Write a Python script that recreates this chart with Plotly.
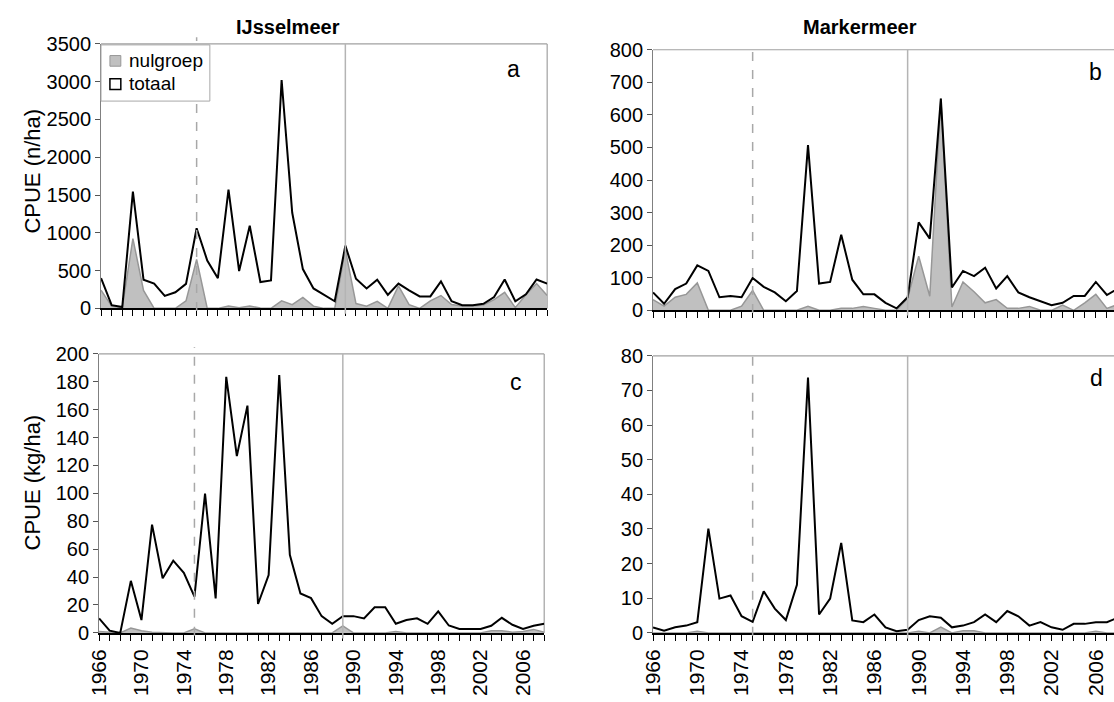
import plotly.graph_objects as go

years = list(range(1966, 2009))

# Panel a: IJsselmeer, CPUE (n/ha)
ijs_n_totaal = [400, 43, 17, 1545, 379, 328, 166, 213, 324, 1060, 634, 400, 1571, 494, 1094,
                349, 370, 3023, 1265, 520, 264, 179, 94, 830, 392, 264, 379, 179, 328, 238,
                158, 158, 358, 94, 43, 43, 60, 149, 383, 94, 187, 383, 328]
ijs_n_nulgroep = [240, 30, 10, 924, 238, 0, 0, 0, 100, 647, 0, 0, 30, 10, 30,
                  5, 0, 100, 50, 145, 30, 0, 0, 775, 64, 30, 94, 0, 298, 50,
                  0, 100, 170, 50, 30, 30, 43, 115, 213, 10, 179, 328, 170]

# Panel b: Markermeer, CPUE (n/ha)
mar_n_totaal = [55, 20, 65, 82, 138, 121, 40, 44, 40, 99, 72, 55, 28, 59, 507,
                82, 87, 232, 94, 49, 49, 23, 6, 40, 270, 220, 650, 70, 121, 105,
                131, 67, 105, 55, 40, 28, 16, 23, 44, 44, 87, 47, 67]
mar_n_nulgroep = [33, 13, 40, 49, 84, 0, 0, 0, 13, 61, 0, 0, 0, 0, 12,
                  0, 0, 6, 6, 12, 6, 0, 0, 37, 166, 43, 650, 10, 87, 57,
                  23, 33, 6, 6, 12, 0, 0, 16, 0, 23, 49, 6, 18]

# Panel c: IJsselmeer, CPUE (kg/ha)
ijs_kg_totaal = [10.4, 1.6, 0, 37.3, 9.2, 77.6, 39.2, 51.8, 43.1, 26, 99.8, 24.7, 183.6, 126.7, 162.9,
                 20.7, 41.5, 184.8, 56, 28.3, 24.9, 12, 6.5, 12, 12, 10.4, 18.4, 18.4, 6.5, 9.2,
                 10.4, 6.5, 15.4, 5.3, 2.8, 2.8, 2.8, 5.1, 10.8, 5.8, 2.8, 5.1, 6.5]
ijs_kg_nulgroep = [1, 0.3, 0, 3.5, 1.5, 0.5, 0, 0, 0, 3, 0, 0, 0, 0, 0,
                   0, 0, 0, 0, 0, 0, 0, 0, 5, 0, 0, 0, 0, 1, 0,
                   0, 0, 0, 0, 0, 0, 0, 1.5, 1.5, 0.5, 1, 2.5, 0.5]

# Panel d: Markermeer, CPUE (kg/ha)
mar_kg_totaal = [1.6, 0.6, 1.6, 2.1, 3.1, 30.1, 9.9, 10.8, 4.8, 3.2, 12, 7, 3.7, 13.9, 73.7,
                 5.3, 9.9, 26, 3.6, 3.1, 5.3, 1.6, 0.5, 0.9, 3.7, 4.8, 4.4, 1.6, 2.1, 3.1,
                 5.3, 3.1, 6.3, 4.8, 2.1, 3.1, 1.6, 0.9, 2.6, 2.6, 3.1, 3.1, 4.4]
mar_kg_nulgroep = [0, 0, 0, 0, 0.5, 0, 0, 0, 0, 0, 0, 0, 0, 0, 0,
                   0, 0, 0, 0, 0, 0, 0, 0, 0, 0.5, 0, 1.7, 0, 0.6, 0.6,
                   0, 0, 0, 0, 0, 0, 0, 0, 0, 0, 0.5, 0, 0]

series_names = ["nulgroep", "totaal"]
tick_labels = [str(y) if (y - 1966) % 4 == 0 else "" for y in years]
dashed_year = 1975
solid_year = 1989

W, H = 1114, 702
FONT = "Liberation Sans, Arial, sans-serif"
YTICK_SIZE = 20
XTICK_SIZE = 21
NUL_FILL, NUL_LINE = "#c0c0c0", "#979797"


def px_x(a, b):
    return [a / W, min(b, W) / W]


def px_y(top, bottom):
    return [1 - bottom / H, 1 - top / H]


def fx(p):
    return p / W


def fy(p):
    return 1 - p / H


# right-hand panels continue slightly beyond the picture edge
RIGHT_LEFT, RIGHT_FULL_END = 648, 1118
right_end = 1966 + 42 * (W - RIGHT_LEFT) / (RIGHT_FULL_END - RIGHT_LEFT)

panels = [
    ("x", "y", px_x(90, 541), px_y(34, 307), ijs_n_totaal, ijs_n_nulgroep, 3500, 500, "a", False, (507, 60)),
    ("x2", "y2", px_x(RIGHT_LEFT, W), px_y(40, 309), mar_n_totaal, mar_n_nulgroep, 800, 100, "b", True, (1095, 63)),
    ("x3", "y3", px_x(88, 538), px_y(354, 642), ijs_kg_totaal, ijs_kg_nulgroep, 200, 20, "c", False, (509, 383)),
    ("x4", "y4", px_x(RIGHT_LEFT, W), px_y(356, 642), mar_kg_totaal, mar_kg_nulgroep, 80, 10, "d", True, (1096, 379)),
]

fig = go.Figure()
shapes = []
annotations = []

for i, (xa, ya, xdom, ydom, tot, nul, ymax, dtick, letter, right, lpos) in enumerate(panels):
    fig.add_trace(go.Scatter(x=years, y=nul, mode="lines", fill="tozeroy", name=series_names[0],
                             fillcolor=NUL_FILL, line=dict(color=NUL_LINE, width=1.5),
                             xaxis=xa, yaxis=ya, showlegend=False, hoverinfo="skip"))
    fig.add_trace(go.Scatter(x=years, y=tot, mode="lines", name=series_names[1],
                             line=dict(color="black", width=2),
                             xaxis=xa, yaxis=ya, showlegend=False, hoverinfo="skip"))
    xkey = "xaxis" if xa == "x" else "xaxis" + xa[1:]
    ykey = "yaxis" if ya == "y" else "yaxis" + ya[1:]
    bottom_row = i >= 2
    fig.layout[xkey] = dict(
        domain=xdom, anchor=ya, range=[1966, right_end if right else 2008],
        tickmode="array", tickvals=years,
        ticktext=tick_labels if bottom_row else [""] * len(years),
        showticklabels=bottom_row, tickangle=-90,
        ticks="outside", ticklen=6, tickcolor="black", tickwidth=1,
        showline=True, linecolor="black", linewidth=2,
        showgrid=False, zeroline=False,
        tickfont=dict(family=FONT, size=XTICK_SIZE, color="black"), fixedrange=True)
    fig.layout[ykey] = dict(
        domain=ydom, anchor=xa, range=[0, ymax], dtick=dtick, tick0=0,
        ticks="outside", ticklen=5, tickcolor="#555555", tickwidth=1,
        showline=True, linecolor="#808080", linewidth=1,
        showgrid=False, zeroline=False,
        tickfont=dict(family=FONT, size=YTICK_SIZE, color="black"), fixedrange=True)
    xd = xa + " domain"
    yd = ya + " domain"
    shapes.append(dict(type="line", xref=xd, yref=yd, x0=0, x1=1, y0=1, y1=1,
                       line=dict(color="#a0a0a0", width=1.2), layer="below"))
    if not right:
        shapes.append(dict(type="line", xref=xd, yref=yd, x0=1, x1=1, y0=0, y1=1,
                           line=dict(color="#a0a0a0", width=1.2), layer="below"))
    shapes.append(dict(type="line", xref=xa, yref=yd, x0=dashed_year, x1=dashed_year,
                       y0=-0.01, y1=1.025, line=dict(color="#a8a8a8", width=1.5, dash="dash")))
    shapes.append(dict(type="line", xref=xa, yref=yd, x0=solid_year, x1=solid_year,
                       y0=-0.02, y1=1.0, line=dict(color="#b4b4b4", width=1.5)))
    annotations.append(dict(text=letter, xref="paper", yref="paper",
                            x=fx(lpos[0]), y=fy(lpos[1]),
                            xanchor="center", yanchor="middle", showarrow=False,
                            font=dict(family=FONT, size=23, color="black")))

# legend box (drawn on top of panel a)
shapes += [
    dict(type="rect", xref="paper", yref="paper", x0=fx(90), x1=fx(200), y0=fy(93), y1=fy(35),
         fillcolor="white", line=dict(color="#a8a8a8", width=1)),
    dict(type="rect", xref="paper", yref="paper", x0=fx(99), x1=fx(110), y0=fy(57), y1=fy(46),
         fillcolor=NUL_FILL, line=dict(color=NUL_LINE, width=1)),
    dict(type="rect", xref="paper", yref="paper", x0=fx(99), x1=fx(110), y0=fy(81), y1=fy(70),
         fillcolor="white", line=dict(color="black", width=1.5)),
]
annotations += [
    dict(text=series_names[0], xref="paper", yref="paper", x=fx(116), y=fy(51),
         xanchor="left", yanchor="middle", showarrow=False,
         font=dict(family=FONT, size=19, color="black")),
    dict(text=series_names[1], xref="paper", yref="paper", x=fx(116), y=fy(75),
         xanchor="left", yanchor="middle", showarrow=False,
         font=dict(family=FONT, size=19, color="black")),
]

annotations += [
    dict(text="<b>IJsselmeer</b>", xref="paper", yref="paper", x=fx(279), y=fy(17),
         xanchor="center", yanchor="middle", showarrow=False,
         font=dict(family=FONT, size=20, color="black")),
    dict(text="<b>Markermeer</b>", xref="paper", yref="paper", x=fx(857), y=fy(17),
         xanchor="center", yanchor="middle", showarrow=False,
         font=dict(family=FONT, size=20, color="black")),
    dict(text="CPUE (n/ha)", xref="paper", yref="paper", x=fx(21), y=fy(165),
         xanchor="center", yanchor="middle", textangle=-90, showarrow=False,
         font=dict(family=FONT, size=22, color="black")),
    dict(text="CPUE (kg/ha)", xref="paper", yref="paper", x=fx(21), y=fy(487),
         xanchor="center", yanchor="middle", textangle=-90, showarrow=False,
         font=dict(family=FONT, size=22, color="black")),
]

fig.update_layout(
    width=W, height=H, margin=dict(l=0, r=0, t=0, b=0),
    paper_bgcolor="white", plot_bgcolor="white",
    shapes=shapes, annotations=annotations,
    showlegend=False,
)

fig.write_html(
    "out.html",
    config={"displayModeBar": False},
    post_script="document.body.style.margin='0px';"
                "document.body.style.overflow='hidden';"
                "document.documentElement.style.overflow='hidden';",
)
